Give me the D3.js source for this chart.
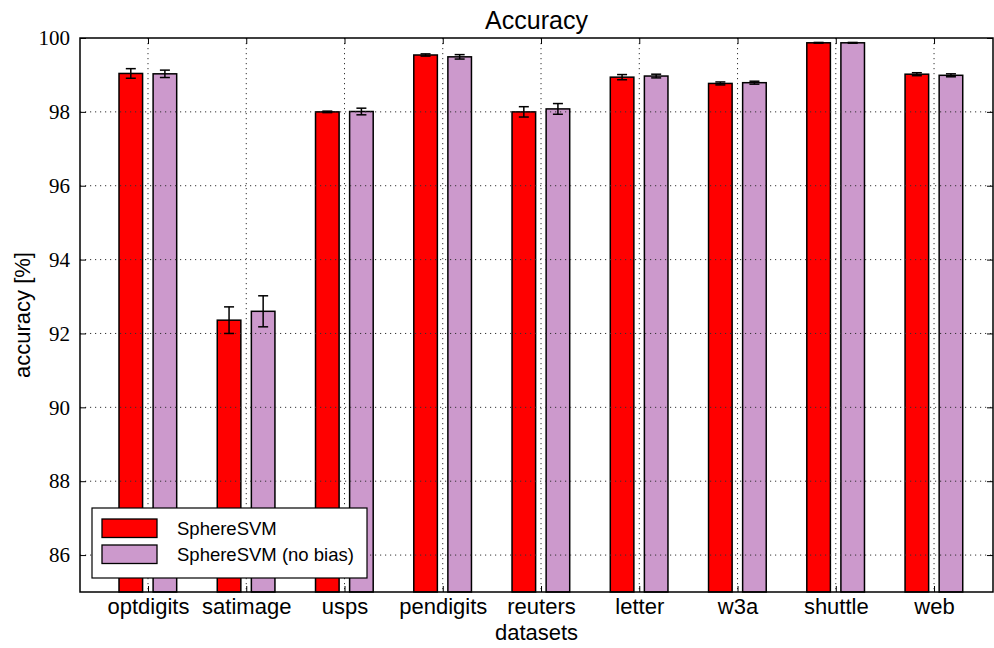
<!DOCTYPE html>
<html>
<head>
<meta charset="utf-8">
<script src="https://cdn.jsdelivr.net/npm/d3@7"></script>
<style>
  html, body { margin: 0; padding: 0; background: #fff; }
  svg { display: block; }
  .ytick-label { font-family: 'Liberation Serif', 'Times New Roman', serif; }
</style>
</head>
<body>
<svg id="chart" width="994" height="648"></svg>
<script>
// Dataset names along the x axis
const datasets = ["optdigits", "satimage", "usps", "pendigits", "reuters", "letter", "w3a", "shuttle", "web"];

// Series labels
const seriesNames = ["SphereSVM", "SphereSVM (no bias)"];

// Mean accuracy [%] per dataset
const sphereSVM       = [99.04, 92.36, 98.00, 99.54, 98.00, 98.94, 98.77, 99.87, 99.02];
const sphereSVMNoBias = [99.03, 92.60, 98.01, 99.49, 98.08, 98.97, 98.79, 99.87, 98.99];

// Standard deviation of accuracy [%]
const sphereSVMErr       = [0.13, 0.36, 0.02, 0.03, 0.14, 0.07, 0.04, 0.01, 0.04];
const sphereSVMNoBiasErr = [0.10, 0.42, 0.09, 0.06, 0.145, 0.05, 0.04, 0.01, 0.04];

// Y axis ticks
const yTicks = [86, 88, 90, 92, 94, 96, 98, 100];

const svg = d3.select("#chart");
const plotLeft = 80, plotRight = 993, plotTop = 38, plotBottom = 592;

const x = d3.scaleLinear().domain([-0.692, 8.6]).range([plotLeft, plotRight]);
const y = d3.scaleLinear().domain([85, 100]).range([plotBottom, plotTop]);

const barW = 0.24;
const series = [
  { name: seriesNames[0], values: sphereSVM, errs: sphereSVMErr, color: "#ff0000", offset: -0.295 },
  { name: seriesNames[1], values: sphereSVMNoBias, errs: sphereSVMNoBiasErr, color: "#cc99cc", offset: 0.052 }
];

const sans = "'Liberation Sans', Arial, Helvetica, sans-serif";

const plot = svg.append("g");

// Bars
series.forEach(s => {
  plot.append("g").selectAll("rect")
    .data(s.values)
    .join("rect")
    .attr("x", (d, i) => x(i + s.offset))
    .attr("width", x(barW) - x(0))
    .attr("y", d => y(d))
    .attr("height", d => y(85) - y(d))
    .attr("fill", s.color)
    .attr("stroke", "#000")
    .attr("stroke-width", 1.5);
});

// Dotted grid
const grid = plot.append("g")
  .attr("stroke", "#333")
  .attr("stroke-width", 1)
  .attr("stroke-dasharray", "1.2,3.8");
grid.selectAll("line.v")
  .data(datasets)
  .join("line")
  .attr("class", "v")
  .attr("x1", (d, i) => x(i)).attr("x2", (d, i) => x(i))
  .attr("y1", plotTop).attr("y2", plotBottom);
grid.selectAll("line.h")
  .data(yTicks.filter(t => t < 100))
  .join("line")
  .attr("class", "h")
  .attr("x1", plotLeft).attr("x2", plotRight)
  .attr("y1", d => y(d)).attr("y2", d => y(d));

// Error bars
series.forEach(s => {
  const g = plot.append("g").attr("stroke", "#000").attr("stroke-width", 1.5);
  const cx = i => x(i + s.offset + barW / 2);
  s.values.forEach((v, i) => {
    const e = s.errs[i];
    g.append("line").attr("x1", cx(i)).attr("x2", cx(i)).attr("y1", y(v - e)).attr("y2", y(v + e));
    g.append("line").attr("x1", cx(i) - 5).attr("x2", cx(i) + 5).attr("y1", y(v - e)).attr("y2", y(v - e));
    g.append("line").attr("x1", cx(i) - 5).attr("x2", cx(i) + 5).attr("y1", y(v + e)).attr("y2", y(v + e));
  });
});

// Axes with inward ticks on all four sides
const tickLen = 6;
const xAxisB = d3.axisBottom(x).tickValues(d3.range(datasets.length))
  .tickFormat(i => datasets[i]).tickSizeInner(-tickLen).tickSizeOuter(0).tickPadding(6);
const gxb = svg.append("g").attr("transform", `translate(0,${plotBottom})`).call(xAxisB);
gxb.select(".domain").remove();
gxb.selectAll("text").attr("font-family", sans).attr("font-size", 22).attr("fill", "#000");
gxb.selectAll("line").attr("stroke", "#000").attr("stroke-width", 1);

const xAxisT = d3.axisTop(x).tickValues(d3.range(datasets.length))
  .tickFormat("").tickSizeInner(-tickLen).tickSizeOuter(0);
const gxt = svg.append("g").attr("transform", `translate(0,${plotTop})`).call(xAxisT);
gxt.select(".domain").remove();
gxt.selectAll("line").attr("stroke", "#000");

const yAxisL = d3.axisLeft(y).tickValues(yTicks).tickFormat(d3.format("d"))
  .tickSizeInner(-tickLen).tickSizeOuter(0).tickPadding(10);
const gyl = svg.append("g").attr("transform", `translate(${plotLeft},0)`).call(yAxisL);
gyl.attr("font-family", null);
gyl.select(".domain").remove();
gyl.selectAll("text")
  .attr("class", "ytick-label")
  .style("font-family", "'Liberation Serif', 'Times New Roman', serif")
  .attr("font-size", 21).attr("fill", "#000");
gyl.selectAll("line").attr("stroke", "#000");

const yAxisR = d3.axisRight(y).tickValues(yTicks).tickFormat("")
  .tickSizeInner(-tickLen).tickSizeOuter(0);
const gyr = svg.append("g").attr("transform", `translate(${plotRight},0)`).call(yAxisR);
gyr.select(".domain").remove();
gyr.selectAll("line").attr("stroke", "#000");

// Frame
svg.append("rect")
  .attr("x", plotLeft).attr("y", plotTop)
  .attr("width", plotRight - plotLeft).attr("height", plotBottom - plotTop)
  .attr("fill", "none").attr("stroke", "#000").attr("stroke-width", 1.5);

// Title and axis labels
svg.append("text")
  .attr("x", (plotLeft + plotRight) / 2).attr("y", 29)
  .attr("text-anchor", "middle")
  .attr("font-family", sans).attr("font-size", 25)
  .text("Accuracy");

svg.append("text")
  .attr("x", (plotLeft + plotRight) / 2).attr("y", 640)
  .attr("text-anchor", "middle")
  .attr("font-family", sans).attr("font-size", 22)
  .text("datasets");

svg.append("text")
  .attr("transform", `translate(30,${(plotTop + plotBottom) / 2}) rotate(-90)`)
  .attr("text-anchor", "middle")
  .attr("font-family", sans).attr("font-size", 22)
  .text("accuracy [%]");

// Legend
const legend = svg.append("g").attr("transform", "translate(92,508)");
legend.append("rect")
  .attr("width", 275).attr("height", 70)
  .attr("fill", "#fff").attr("stroke", "#000").attr("stroke-width", 1.2);
series.forEach((s, i) => {
  const row = legend.append("g").attr("transform", `translate(10,${11 + i * 26})`);
  row.append("rect")
    .attr("width", 55).attr("height", 18.5)
    .attr("fill", s.color).attr("stroke", "#000").attr("stroke-width", 1.3);
  row.append("text")
    .attr("x", 75).attr("y", 9.5).attr("dy", "0.35em")
    .attr("font-family", sans).attr("font-size", 18.5)
    .text(s.name);
});
</script>
</body>
</html>
